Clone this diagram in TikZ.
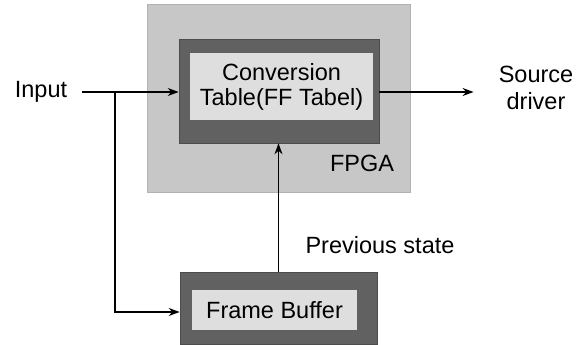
\documentclass[tikz,border=0pt]{standalone}
\usepackage{fontspec}
\setmainfont{Liberation Sans}
\usetikzlibrary{arrows.meta}
\begin{document}
\begin{tikzpicture}[x=1pt,y=-1pt,
  lbl/.style={font=\fontsize{23.5}{27}\selectfont, inner sep=0pt, align=center},
  chip/.style={fill=black!22, draw=black!30, line width=0.6pt, minimum width=263pt, minimum height=188pt, inner sep=0pt},
  frameo/.style={fill=black!62, draw=black!70, line width=0.6pt, inner sep=0pt},
  framei/.style={fill=black!13, inner sep=0pt, font=\fontsize{23.5}{27}\selectfont, align=center},
  wire/.style={line width=1.6pt, -{Stealth[length=11pt,width=8pt]}},
  plain/.style={line width=1.6pt}]
\useasboundingbox (0,0) rectangle (584,345);

% FPGA package
\node[chip] (fpga) at (278.5,98.5) {};
\node[lbl] (fpgalbl) at (362,163) {FPGA};

% conversion table block
\node[frameo, minimum width=200pt, minimum height=104pt] (conv) at (279,91) {};
\node[framei, minimum width=183pt, minimum height=67pt] (convin) at (281.5,86.5)
  {Conversion\\[-2pt]Table(FF Tabel)};

% frame buffer block
\node[frameo, minimum width=197pt, minimum height=72pt] (fb) at (278.5,308) {};
\node[framei, minimum width=165pt, minimum height=40pt] (fbin) at (274.5,310) {Frame Buffer};

% labels
\node[lbl] (in) at (41,92) {Input};
\node[lbl] (src) at (536,88) {Source\\driver};
\node[lbl] (prev) at (380,245) {Previous state};

% connectors
\coordinate (br) at (115,92);
\draw[plain, shorten <=15pt] (in.east) -- (br);
\draw[wire] (br) -- (br -| conv.west);
\draw[wire] (br) |- ([yshift=-4pt]fb.west);
\draw[wire, shorten >=25pt] (conv.east |- br) -- (src.west |- br);
\draw[wire] (fb.north) -- (fb.north |- conv.south);
\end{tikzpicture}
\end{document}
